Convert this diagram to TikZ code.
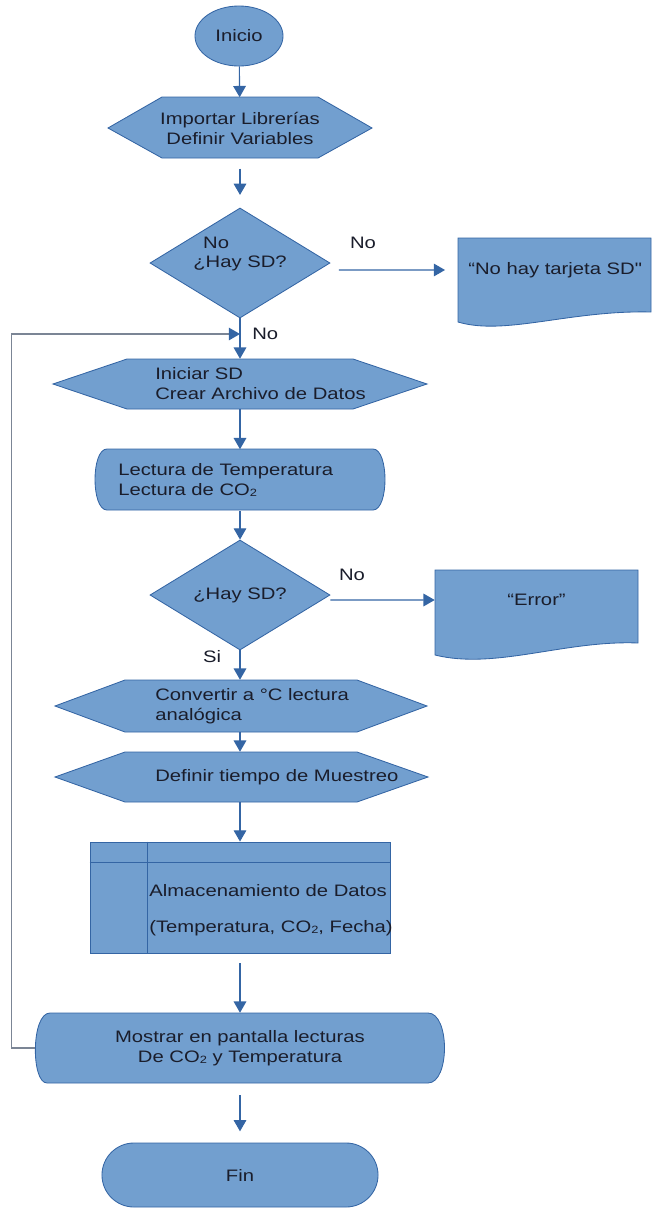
\documentclass[tikz,border=0pt]{standalone}
\usepackage{fontspec}
\setmainfont[FakeStretch=1.22]{Liberation Sans}
\usetikzlibrary{shapes.geometric,arrows.meta}

\definecolor{flowfill}{HTML}{729FCF}
\definecolor{flowline}{HTML}{3465A4}
\definecolor{flowtext}{HTML}{1A1D2B}
\definecolor{loopgray}{HTML}{7B8595}

\newcommand{\cosub}{CO{\fontsize{7.5}{7.5}\selectfont\raisebox{-0.25ex}{2}}}

\begin{document}
\begin{tikzpicture}[x=0.025cm, y=-0.025cm,
    box/.style={draw=flowline, fill=flowfill, line width=0.6pt},
    txt/.style={font=\fontsize{11.8}{14.2}\selectfont, text=flowtext, inner sep=0pt, align=left},
    start/.style={box, txt, ellipse, minimum width=2.2cm, minimum height=1.5cm},
    decision/.style={box, txt, diamond, minimum width=4.5cm, minimum height=2.75cm},
    arrow/.style={draw=flowline, line width=0.8pt, -{Triangle[width=9pt,length=8pt]}},
    loopline/.style={draw=loopgray, line width=0.8pt, -{Triangle[width=9pt,length=8pt,color=flowline]}}
]
\useasboundingbox (0,0) rectangle (653,1211);
\coordinate (axis) at (240,0);

% Inicio
\node[start] (inicio) at (239,36) {Inicio};

% Importar / definir
\filldraw[box] (108,128) -- (162,97) -- (318,97) -- (372,128) -- (318,158) -- (162,158) -- cycle;
\node[txt, align=center, minimum height=1.525cm] (importar) at (240,128) {Importar Librerías\\Definir Variables};
\draw[arrow] (inicio) -- (importar);

% First check
\node[decision] (sd1) at (240,263) {};
\node[txt] (sd1txt) at (240,254) {\hspace*{7pt}No\\¿Hay SD?};
\draw[arrow, shorten <=7pt, shorten >=9pt] (importar) -- (sd1);

% No card
\filldraw[box] (458,238) -- (651,238) -- (651,312) .. controls (570,310) and (505,336) .. (458,322) -- cycle;
\node[txt, align=center, minimum width=4.825cm] (nocard) at (554.5,270) {“No hay tarjeta SD\textquotedbl};
\draw[arrow, shorten <=6pt, shorten >=9pt] ([yshift=-0.175cm]sd1.east) -- (nocard);
\node[txt] (no1) at (363,243) {No};

% Loop back
\coordinate (reentry) at (240,334);
\node[txt, anchor=west] (no2) at (252,334) {No};

% Iniciar SD
\filldraw[box] (53,384) -- (127,359) -- (353,359) -- (427,384) -- (353,409) -- (127,409) -- cycle;
\node[txt, anchor=west, minimum height=1.25cm] (iniciar) at (155,384) {Iniciar SD\\Crear Archivo de Datos};
\draw[arrow] (sd1.south) -- (iniciar.north -| axis);

% Lecturas
\filldraw[box] (107,449) -- (373,449) .. controls (389,449) and (389,510) .. (373,510) -- (107,510) .. controls (91,510) and (91,449) .. (107,449) -- cycle;
\node[txt, anchor=west, minimum height=1.525cm] (lectura) at (118,480) {Lectura de Temperatura\\Lectura de \cosub};
\draw[arrow] (iniciar.south -| axis) -- (lectura.north -| axis);

% Second check
\node[decision] (sd2) at (240,595) {¿Hay SD?};
\draw[arrow] (lectura.south -| axis) -- (sd2);

% Error
\filldraw[box] (435,570) -- (638,570) -- (638,643) .. controls (565,640) and (495,670) .. (435,655) -- cycle;
\node[txt, align=center, minimum width=5.075cm] (error) at (536.5,600) {“Error”};
\draw[arrow] ([yshift=-0.125cm]sd2.east) -- (error);
\node[txt] (no3) at (352,575) {No};
\node[txt] (si) at (212,657) {Si};

% Convertir
\filldraw[box] (55,706) -- (125,680) -- (357,680) -- (427,706) -- (357,732) -- (125,732) -- cycle;
\node[txt, anchor=west, minimum height=1.3cm] (convertir) at (155,706) {Convertir a °C lectura\\analógica};
\draw[arrow] (sd2) -- (convertir.north -| axis);

% Muestreo
\filldraw[box] (55,777) -- (125,752) -- (357,752) -- (428,777) -- (357,802) -- (125,802) -- cycle;
\node[txt, anchor=west, minimum height=1.25cm] (muestreo) at (155,777) {Definir tiempo de Muestreo};
\draw[arrow] (convertir.south -| axis) -- (muestreo.north -| axis);

% Almacenamiento
\node[box, minimum width=7.5cm, minimum height=2.775cm, inner sep=0pt] (almacen) at (240,897.5) {};
\draw[flowline, line width=0.6pt] ([xshift=1.45cm]almacen.north west) -- ([xshift=1.45cm]almacen.south west);
\draw[flowline, line width=0.6pt] ([yshift=-0.525cm]almacen.north west) -- ([yshift=-0.525cm]almacen.north east);
\node[txt, anchor=west] (almacentxt) at (149,910) {Almacenamiento de Datos\\[11pt](Temperatura, \cosub, Fecha)};
\draw[arrow] (muestreo.south -| axis) -- (almacen);

% Mostrar
\filldraw[box] (50,1013) -- (428,1013) .. controls (450,1013) and (450,1083) .. (428,1083) -- (47,1083) .. controls (31,1083) and (31,1013) .. (50,1013) -- cycle;
\node[txt, align=center, minimum width=10.25cm, minimum height=1.75cm] (mostrar) at (240,1048) {Mostrar en pantalla lecturas\\De \cosub\ y Temperatura};
\draw[arrow, shorten <=7pt] (almacen) -- (mostrar);
\draw[loopline] (mostrar.west) -- ++(-23,0) |- (reentry);

% Fin
\node[box, txt, rounded corners=0.8cm, minimum width=6.9cm, minimum height=1.6cm] (fin) at (240,1175) {Fin};
\draw[arrow, shorten <=8.5pt, shorten >=8pt] (mostrar) -- (fin);

\end{tikzpicture}
\end{document}
